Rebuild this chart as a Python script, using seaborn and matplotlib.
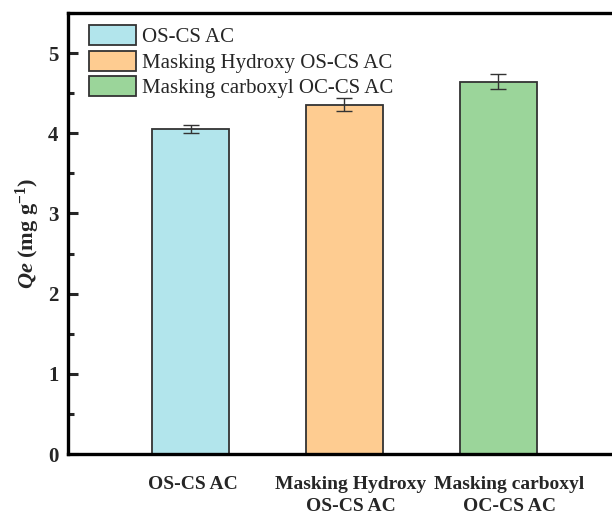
import matplotlib
matplotlib.use("Agg")
import matplotlib.pyplot as plt
from matplotlib.ticker import MultipleLocator
from matplotlib.patches import Patch
from matplotlib.transforms import ScaledTranslation
import seaborn as sns
import pandas as pd

# Adsorption capacity of the three activated carbons
samples = ["OS-CS AC", "Masking Hydroxy OS-CS AC", "Masking carboxyl OC-CS AC"]
tick_labels = ["OS-CS AC", "Masking Hydroxy\nOS-CS AC", "Masking carboxyl\nOC-CS AC"]
qe = [4.056, 4.355, 4.645]
qe_err = [0.05, 0.083, 0.096]
colors = ["#B2E5EC", "#FECC91", "#9BD59A"]

sns.set_theme(style="ticks")
plt.rcParams["font.family"] = ["Liberation Serif", "DejaVu Serif"]
plt.rcParams["mathtext.fontset"] = "custom"
plt.rcParams["mathtext.rm"] = "Liberation Serif:bold"
plt.rcParams["mathtext.it"] = "Liberation Serif:bold:italic"
plt.rcParams["mathtext.bf"] = "Liberation Serif:bold"

df = pd.DataFrame({"sample": samples, "qe": qe})

fig = plt.figure(figsize=(6.12, 5.16), dpi=100)
ax = fig.add_axes([68 / 612, 1 - 454 / 516, 552 / 612, 441 / 516])

sns.barplot(data=df, x="sample", y="qe", hue="sample", palette=colors,
            saturation=1, width=0.5, edgecolor="#333333", linewidth=1.3,
            errorbar=None, legend=False, ax=ax)
ax.errorbar(range(len(qe)), qe, yerr=qe_err, fmt="none", ecolor="#333333",
            elinewidth=1.0, capsize=6, capthick=1.0)

ax.set_xlim(-0.796, 2.79)
ax.set_ylim(0, 5.5)
ax.yaxis.set_major_locator(MultipleLocator(1))
ax.yaxis.set_minor_locator(MultipleLocator(0.5))
ax.tick_params(axis="y", which="major", direction="in", length=7, width=2.2,
               labelsize=15, pad=7)
ax.tick_params(axis="y", which="minor", direction="in", length=4, width=2.2)
ax.tick_params(axis="x", length=0, pad=16)
for lab in ax.get_yticklabels():
    lab.set_fontweight("bold")
ax.set_xticks(range(len(samples)))
ax.set_xticklabels(tick_labels, fontsize=14, fontweight="bold",
                   linespacing=1.4, va="top")
# nudge the category labels slightly to the right
for lab, dx in zip(ax.get_xticklabels(), [2, 6, 11]):
    lab.set_transform(lab.get_transform() +
                      ScaledTranslation(dx / 100, 0, fig.dpi_scale_trans))
ax.set_xlabel("")
ax.set_ylabel(r"$Qe$ (mg g$^{\mathbf{-1}}$)", fontsize=16,
              fontweight="bold", labelpad=4)

for side in ["left", "bottom", "top", "right"]:
    ax.spines[side].set_linewidth(2.4)
    ax.spines[side].set_color("black")

handles = [Patch(facecolor=c, edgecolor="#333333", linewidth=1.3) for c in colors]
ax.legend(handles, samples, loc="upper left", frameon=False, fontsize=15,
          handlelength=2.26, handleheight=1.12, labelspacing=0.16,
          handletextpad=0.27, borderaxespad=0.0, borderpad=0.0,
          bbox_to_anchor=((89 - 68) / 552, 1 - (25 - 13) / 441))

fig.savefig("out.png", dpi=100)
